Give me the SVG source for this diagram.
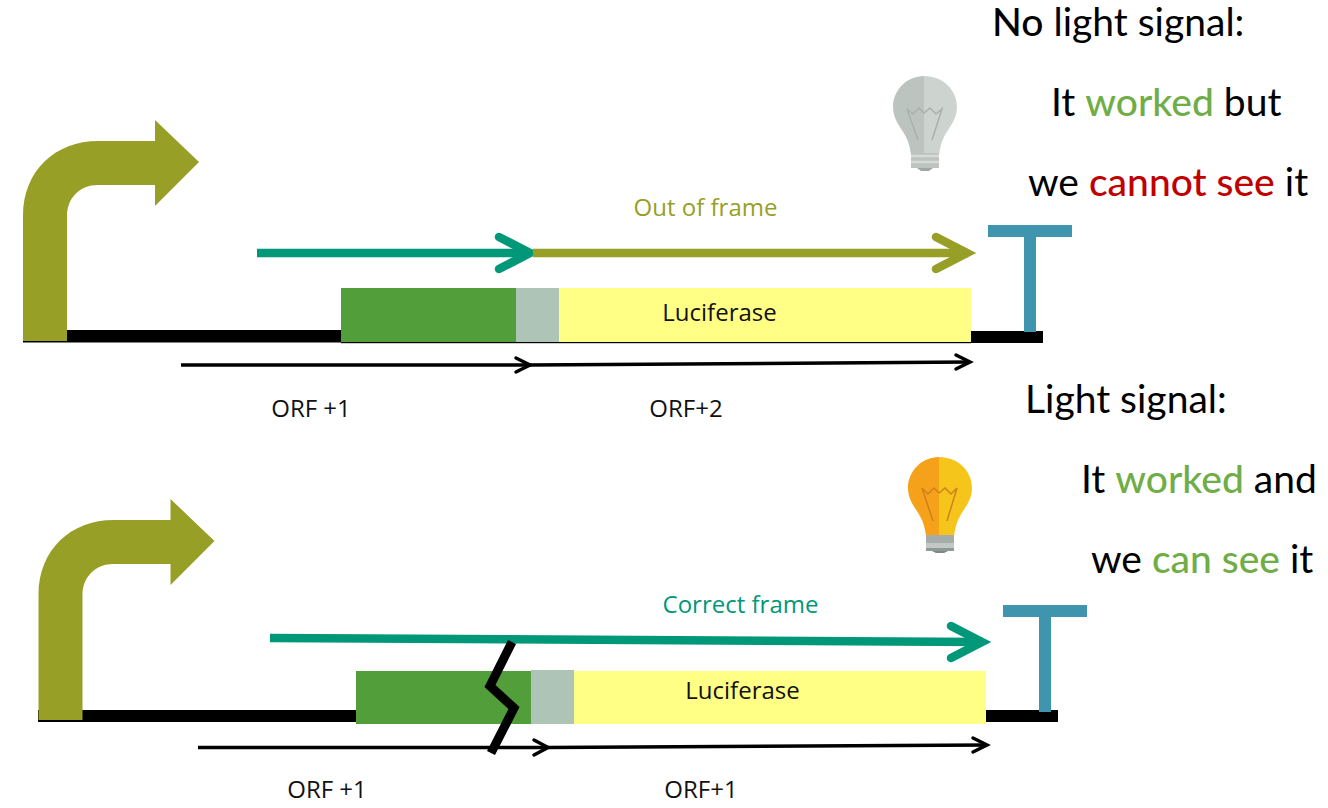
<svg xmlns="http://www.w3.org/2000/svg" width="1328" height="808" viewBox="0 0 1328 808">
<style>
.big{font-family:Lato,"Open Sans",sans-serif;font-size:39px;fill:#000}
.lab{font-family:"Open Sans","Noto Sans",sans-serif;font-size:24px;fill:#111}
.g{fill:#70ad47;font-weight:500}
.r{fill:#c00000;font-weight:500}
.line{fill:none;stroke-linecap:butt}
.head{fill:none;stroke-linecap:round;stroke-linejoin:miter}
.teal{stroke:#009878;stroke-width:8.5}
.olive{stroke:#979f27;stroke-width:8.5}
.thin{stroke:#000;stroke-width:3.5}
</style>
<defs>
<path id="bent" fill="#979f27" d="M23 341V216C23 170 56 141 98 141H155V120L199 162L155 206V185H98C80 185 67 198 67 216V341Z"/>
<g id="tee" fill="#3f95ae"><rect x="988" y="225" width="84" height="12"/><rect x="1024" y="237" width="12" height="95"/></g>
<clipPath id="bulbL"><rect x="0" y="0" width="64" height="110"/></clipPath>
</defs>

<g id="promoter-top"><rect x="23" y="330" width="319" height="12.500" fill="#000"/><use href="#bent"/></g>
<g id="promoter-bottom"><rect x="38" y="710" width="320" height="12" fill="#000"/><use href="#bent" x="15.500" y="379"/></g>

<g id="construct-top">
<rect x="971" y="331" width="72" height="12" fill="#000"/>
<rect x="341" y="288" width="175" height="54" fill="#529e3a"/>
<rect x="516" y="288" width="43" height="54" fill="#aec4b6"/>
<rect x="559" y="288" width="412" height="54" fill="#ffff85"/>
<rect x="341" y="342" width="630" height="1.200" fill="#000"/>
<text class="lab" x="719.500" y="321" text-anchor="middle">Luciferase</text>
</g>
<g id="construct-bottom">
<rect x="986" y="710" width="72" height="12" fill="#000"/>
<rect x="356" y="671" width="175" height="53" fill="#529e3a"/>
<rect x="531" y="670" width="43" height="54" fill="#aec4b6"/>
<rect x="574" y="671" width="412" height="53" fill="#ffff85"/>
<text class="lab" x="742.500" y="699" text-anchor="middle">Luciferase</text>
</g>

<g id="terminator-top"><use href="#tee"/></g>
<g id="terminator-bottom"><use href="#tee" x="15" y="380"/></g>

<g id="connectors">
<path class="line teal" d="M257 253H530"/>
<path class="head teal" d="M499 237L530 253L499 269"/>
<path class="line olive" d="M533 253H968"/>
<path class="head olive" d="M936 237L967 253L936 269"/>
<path class="line teal" d="M270 638L982 642"/>
<path class="head teal" d="M951 626L982 642L951 658"/>
<path class="line thin" d="M181 365H530L970 362"/>
<path class="head thin" d="M516 358L530 365L516 372"/>
<path class="head thin" d="M956 355L970 362L956 369"/>
<path class="line thin" d="M198 747.500H548L987 745"/>
<path class="head thin" d="M534 740L548 747.500L534 755"/>
<path class="head thin" d="M973 738L987 745L973 752"/>
</g>

<g id="break"><path d="M512 642L490 686L514 708L491 753" fill="none" stroke="#000" stroke-width="9" stroke-linejoin="miter"/></g>

<g id="bulb-off" transform="translate(893 75)">
<path fill="#bcc4c0" d="M31 1C14 1 0 15 0 32C0 45 8 52 13 62C16 68 17 73 18 80H31Z"/>
<path fill="#cdd4d0" d="M31 1C50 1 64 15 64 32C64 45 56 52 51 62C48 68 47 73 46 80H31Z"/>
<path fill="none" stroke="#a9b1ad" stroke-width="1.500" d="M14 34L20 39L26 33L31 38L37 33L43 39L49 34L39 65M14 34L25 65"/>
<rect x="18" y="78" width="28" height="15" fill="#bdc4c0"/>
<path d="M18 81H46M18 87H46" stroke="#d6dbd8" stroke-width="2.500"/>
<path d="M24 93H40L36 96H28Z" fill="#9fa7a3"/>
</g>
<g id="bulb-on" transform="translate(908 457)">
<path fill="#f5a11a" d="M31 0C14 0 0 14 0 31C0 44 8 51 13 61C16 67 17 72 18 79H31Z"/>
<path fill="#f6c51b" d="M31 0C50 0 64 14 64 31C64 44 56 51 51 61C48 67 47 72 46 79H31Z"/>
<path fill="none" stroke="#d0801c" stroke-width="1.500" d="M14 31L20 37L26 31L31 36L37 31L43 37L49 31L39 64M14 31L25 64"/>
<rect x="18" y="78" width="28" height="8" fill="#a4adaa"/><rect x="18" y="86" width="28" height="5" fill="#c1c8c5"/><rect x="18" y="91" width="28" height="3" fill="#8f9995"/>
<path d="M24 94H40L36 96H28Z" fill="#7d8783"/>
</g>

<g id="labels">
<text class="lab" x="705.500" y="216" text-anchor="middle" style="fill:#979f27">Out of frame</text>
<text class="lab" x="740.500" y="613" text-anchor="middle" style="fill:#009878">Correct frame</text>
<text class="lab" x="311" y="417" text-anchor="middle">ORF +1</text>
<text class="lab" x="686" y="417" text-anchor="middle">ORF+2</text>
<text class="lab" x="327" y="798" text-anchor="middle">ORF +1</text>
<text class="lab" x="701" y="798" text-anchor="middle">ORF+1</text>
</g>
<g id="text-top">
<text class="big" x="992" y="36"><tspan font-weight="500">No</tspan> light signal:</text>
<text class="big" x="1051" y="116">It <tspan class="g">worked</tspan> but</text>
<text class="big" x="1028" y="196">we <tspan class="r">cannot see</tspan> it</text>
</g>
<g id="text-bottom">
<text class="big" x="1025" y="413">Light signal:</text>
<text class="big" x="1081" y="493">It <tspan class="g">worked</tspan> and</text>
<text class="big" x="1091" y="573">we <tspan class="g">can see</tspan> it</text>
</g>
</svg>
